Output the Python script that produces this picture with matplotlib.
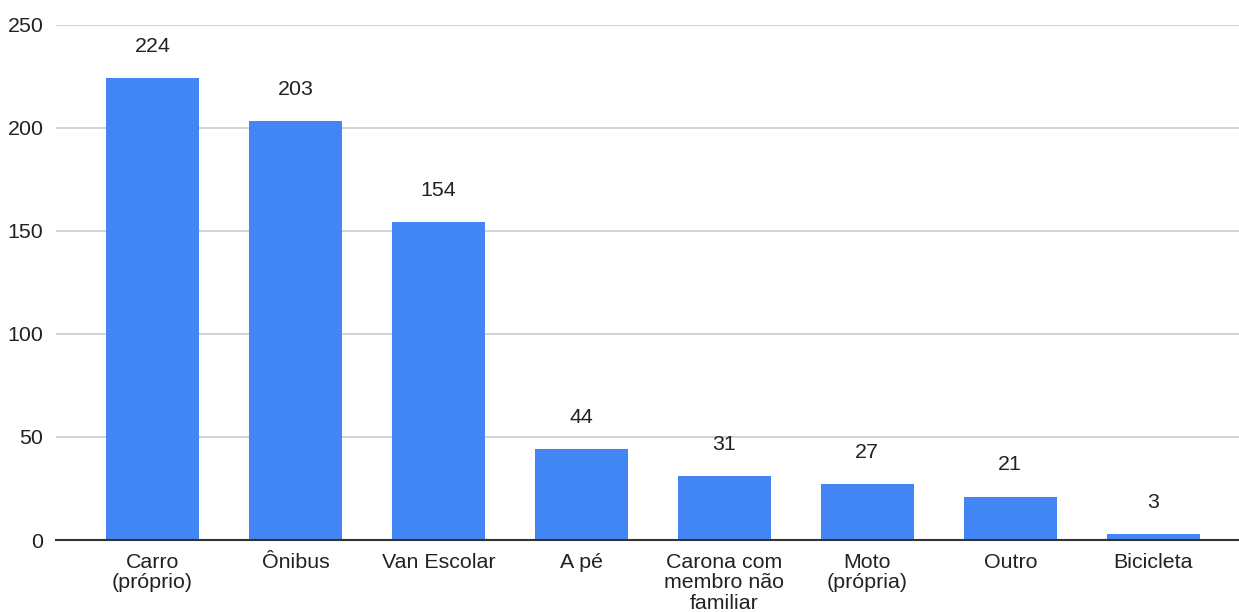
import matplotlib
matplotlib.use("Agg")
import matplotlib.pyplot as plt

categories = ["Carro\n(próprio)", "Ônibus", "Van Escolar", "A pé",
              "Carona com\nmembro não\nfamiliar", "Moto\n(própria)", "Outro", "Bicicleta"]
values = [224, 203, 154, 44, 31, 27, 21, 3]
yticks = [0, 50, 100, 150, 200, 250]

plt.rcParams['font.family'] = ['Liberation Sans', 'DejaVu Sans']

fig = plt.figure(figsize=(12.39, 6.12), dpi=100)
ax = fig.add_axes([56/1239, 72/612, 1 - 56/1239, (540-24.5)/612])

x = list(range(len(categories)))
bars = ax.bar(x, values, width=0.65, color="#4285F4", zorder=3)

for xi, v in zip(x, values):
    ax.annotate(str(v), (xi, v), xytext=(0, 16), textcoords="offset points",
                ha="center", va="bottom", fontsize=15.4, color="#222222")

ax.set_xlim(-0.675, 7.6)
ax.set_ylim(0, 250)
ax.set_yticks(yticks)
ax.set_yticklabels([str(t) for t in yticks])
ax.set_xticks(x)
ax.set_xticklabels(categories, linespacing=1.12)

ax.grid(axis="y", color="#cccccc", linewidth=1.2, zorder=0)
for s in ["top", "right", "left"]:
    ax.spines[s].set_visible(False)
ax.spines["bottom"].set_color("#333333")
ax.spines["bottom"].set_linewidth(1.5)
ax.spines["bottom"].set_zorder(4)

ax.tick_params(axis="both", length=0, labelsize=15.4, labelcolor="#222222")
ax.tick_params(axis="y", pad=9)
ax.tick_params(axis="x", pad=9)

fig.savefig("out.png", dpi=100)
